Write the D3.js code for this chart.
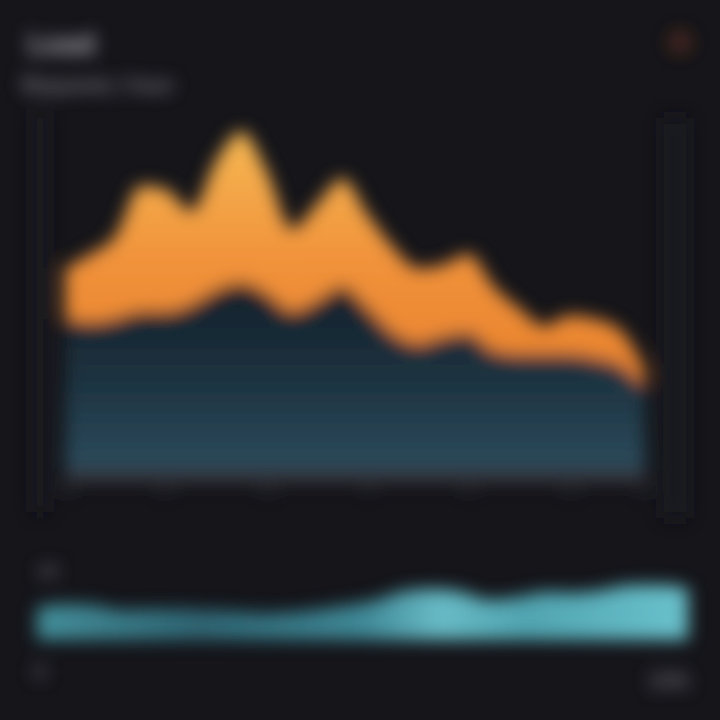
<!DOCTYPE html>
<html>
<head>
<meta charset="utf-8">
<script src="https://cdn.jsdelivr.net/npm/d3@7"></script>
<style>
  html, body { margin: 0; padding: 0; background: #15151a; }
  svg { display: block; }
</style>
</head>
<body>
<svg id="chart" width="720" height="720"></svg>
<script>
// ---- data ----
const hours = ["00","01","02","03","04","05","06","07","08","09","10","11",
               "12","13","14","15","16","17","18","19","20","21","22","23"];
const baseLoad = [42,41,42,44,44,46,50,52,49,44,47,51,45,38,35,37,38,33,32,32,32,31,29,23];
const peakLoad = [14,19,23,35,34,26,36,42,34,23,27,30,26,24,21,20,22,18,13,8,11,11,10,5];
const overview = [16.5,18,17.5,15,15.5,15.5,15,14.5,13.5,14,15.5,17.5,20,24.5,25.5,24,20,21.5,24,23.5,25,27.5,27.5,26];
const xTickLabels = ["00","04","08","12","16","20","23"];
const titleText = "Load";
const subtitleText = "Requests / hour";

const svg = d3.select("#chart");
const W = 720, H = 720;

const defs = svg.append("defs");
const blur = defs.append("filter").attr("id","soft")
  .attr("filterUnits","userSpaceOnUse")
  .attr("x",0).attr("y",0).attr("width",W).attr("height",H);
blur.append("feGaussianBlur").attr("stdDeviation", 8.5);

const og = defs.append("linearGradient").attr("id","orangeG")
  .attr("gradientUnits","userSpaceOnUse").attr("x1",0).attr("x2",0).attr("y1",130).attr("y2",370);
og.append("stop").attr("offset","0%").attr("stop-color","#f6b853");
og.append("stop").attr("offset","55%").attr("stop-color","#f1923b");
og.append("stop").attr("offset","100%").attr("stop-color","#e9832f");

const bg = defs.append("linearGradient").attr("id","blueG")
  .attr("gradientUnits","userSpaceOnUse").attr("x1",0).attr("x2",0).attr("y1",290).attr("y2",470);
bg.append("stop").attr("offset","0%").attr("stop-color","#14212b");
bg.append("stop").attr("offset","45%").attr("stop-color","#1c313e");
bg.append("stop").attr("offset","100%").attr("stop-color","#2c4b5c");

const cg = defs.append("linearGradient").attr("id","cyanG")
  .attr("gradientUnits","userSpaceOnUse").attr("x1",37).attr("x2",688).attr("y1",0).attr("y2",0);
cg.append("stop").attr("offset","0%").attr("stop-color","#448f9b");
cg.append("stop").attr("offset","25%").attr("stop-color","#2f6674");
cg.append("stop").attr("offset","50%").attr("stop-color","#3f8896");
cg.append("stop").attr("offset","62%").attr("stop-color","#68bbc6");
cg.append("stop").attr("offset","75%").attr("stop-color","#50a4b0");
cg.append("stop").attr("offset","100%").attr("stop-color","#6ac2cd");

svg.append("rect").attr("width",W).attr("height",H).attr("fill","#15151a");

const g = svg.append("g").attr("filter","url(#soft)");

// frame hints
g.append("rect").attr("x",34).attr("y",112).attr("width",12).attr("height",400).attr("fill","#1a1a20");
g.append("rect").attr("x",664).attr("y",118).attr("width",22).attr("height",400).attr("fill","#1a1a20");

// title
g.append("text").attr("x",28).attr("y",54).text(titleText)
  .attr("font-family","Inter, 'Noto Sans', sans-serif").attr("font-weight",700)
  .attr("font-size",28).attr("fill","#a8a8b0");
g.append("text").attr("x",22).attr("y",92).text(subtitleText)
  .attr("font-family","Inter, 'Noto Sans', sans-serif").attr("font-weight",600)
  .attr("font-size",20).attr("fill","#808088");

// live dot
g.append("circle").attr("cx",680).attr("cy",42).attr("r",13).attr("fill","#e0602a").attr("opacity",0.22);

// main stacked area
const x = d3.scalePoint().domain(hours).range([65,645]);
const y = d3.scaleLinear().domain([0,100]).range([470,110]);

const rows = hours.map((h,i) => ({hour:h, base:baseLoad[i], peak:peakLoad[i]}));
const stacked = d3.stack().keys(["base","peak"])(rows);

const area = d3.area()
  .x(d => x(d.data.hour))
  .y0(d => y(d[0]))
  .y1(d => y(d[1]))
  .curve(d3.curveMonotoneX);

g.selectAll("path.layer").data(stacked).join("path")
  .attr("class","layer")
  .attr("d", area)
  .attr("fill", (d,i) => i === 0 ? "url(#blueG)" : "url(#orangeG)");

// x axis
const xAxis = d3.axisBottom(x).tickValues(xTickLabels).tickSize(0).tickPadding(9);
const ax = g.append("g").attr("transform","translate(0,476)").call(xAxis);
ax.select(".domain").attr("stroke","#37373e").attr("stroke-width",12);
ax.selectAll("text").attr("fill","#3c3c44").attr("font-size",13)
  .attr("font-family","Inter, 'Noto Sans', sans-serif");

// overview area
const xo = d3.scalePoint().domain(hours).range([37,688]);
const yo = d3.scaleLinear().domain([0,40]).range([640,560]);
const oArea = d3.area()
  .x((d,i) => xo(hours[i]))
  .y0(yo(0))
  .y1(d => yo(d))
  .curve(d3.curveMonotoneX);
g.append("path").datum(overview).attr("d", oArea).attr("fill","url(#cyanG)");

// small labels
const lbl = (xx,yy,t,anchor,size) => g.append("text").attr("x",xx).attr("y",yy).text(t)
  .attr("text-anchor",anchor).attr("font-size",size).attr("font-weight",600)
  .attr("font-family","Inter, 'Noto Sans', sans-serif").attr("fill","#6e6e76");
lbl(48,577,"40","middle",16);
lbl(40,679,"0","middle",18);
lbl(690,688,"24h","end",22);
</script>
</body>
</html>
